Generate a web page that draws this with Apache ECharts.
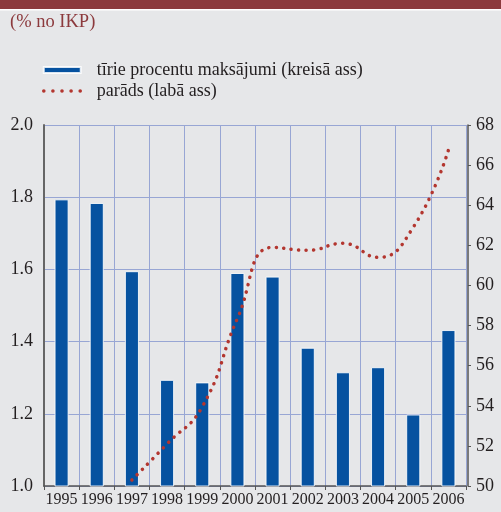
<!DOCTYPE html>
<html>
<head>
<meta charset="utf-8">
<script src="https://cdn.jsdelivr.net/npm/echarts@6/dist/echarts.min.js"></script>
<style>
  html, body { margin: 0; padding: 0; background: #e6e7e9; }
  #chart { width: 501px; height: 512px; }
</style>
</head>
<body>
<div id="chart"></div>
<script>
// gadi
const years = ["1995", "1996", "1997", "1998", "1999", "2000", "2001", "2002", "2003", "2004", "2005", "2006"];
// tīrie procentu maksājumi (% no IKP), kreisā ass
const interestPayments = [1.794, 1.784, 1.595, 1.294, 1.287, 1.59, 1.58, 1.383, 1.315, 1.329, 1.198, 1.432];
// parāds (% no IKP), labā ass
const debt = [null, null, 50.3, 52.1, 53.95, 58.35, 61.9, 61.75, 62.1, 61.4, 62.9, 66.75];

const serif = "Liberation Serif";
const textColor = "#231f20";
const gridColor = "#98a6d4";
const dotLine = { color: "#b3362f", width: 3.5, type: [0.1, 7.4], cap: "round" };

const chart = echarts.init(document.getElementById("chart"));

const option = {
  backgroundColor: "#e6e7e9",
  animation: false,
  textStyle: { fontFamily: serif },
  graphic: [
    // sarkanā josla augšā
    { type: "rect", left: 0, top: 0, shape: { width: 501, height: 9 }, style: { fill: "#8c3a3d" } },
    { type: "rect", left: 0, top: 9, shape: { width: 501, height: 1.5 }, style: { fill: "#ffffff" } },
  ],
  title: {
    text: "(% no IKP)",
    left: 10,
    top: 13,
    padding: 0,
    textStyle: { fontFamily: serif, fontSize: 18.5, fontWeight: "normal", color: "#8c3a3d" },
  },
  legend: {
    orient: "vertical",
    left: 42,
    top: 61,
    padding: 0,
    itemWidth: 37,
    itemHeight: 6,
    itemGap: 3,
    textStyle: { fontFamily: serif, fontSize: 18, color: textColor, padding: [0, 0, 0, 11] },
    data: [
      { name: "tīrie procentu maksājumi (kreisā ass)", icon: "rect" },
      {
        name: "parāds (labā ass)",
        itemStyle: { opacity: 0 },
        lineStyle: { color: "#b3362f", width: 3.5, type: [0.1, 9], cap: "round" },
      },
    ],
  },
  grid: { left: 44, right: 35, top: 125, bottom: 26 },
  xAxis: {
    type: "category",
    data: years,
    axisLine: { lineStyle: { color: "#555", width: 1.5 } },
    axisTick: { show: true, interval: 0, length: 4, lineStyle: { color: "#555" } },
    axisLabel: { interval: 0, fontFamily: serif, fontSize: 16, color: textColor, margin: 6 },
    splitLine: { show: true, interval: 0, lineStyle: { color: gridColor, width: 1 } },
  },
  yAxis: [
    {
      type: "value",
      min: 1.0,
      max: 2.0,
      interval: 0.2,
      axisLine: { show: true, lineStyle: { color: "#666", width: 2 } },
      axisTick: { show: false },
      axisLabel: {
        fontFamily: serif, fontSize: 18, color: textColor, margin: 11,
        formatter: (v) => v.toFixed(1),
      },
      splitLine: { show: true, lineStyle: { color: gridColor, width: 1 } },
    },
    {
      type: "value",
      min: 50,
      max: 68,
      interval: 2,
      offset: 2,
      axisLine: { show: true, lineStyle: { color: "#555", width: 1.5 } },
      axisTick: { show: true, length: 3, lineStyle: { color: "#555" } },
      axisLabel: { fontFamily: serif, fontSize: 18, color: textColor, margin: 8 },
      splitLine: { show: false },
    },
  ],
  series: [
    {
      name: "tīrie procentu maksājumi (kreisā ass)",
      type: "bar",
      data: interestPayments,
      barWidth: "40%",
      itemStyle: { color: "#0652a0", borderColor: "rgba(255,255,255,0.85)", borderWidth: 1 },
    },
    {
      name: "parāds (labā ass)",
      type: "line",
      yAxisIndex: 1,
      data: debt,
      smooth: 0.5,
      symbol: "none",
      itemStyle: { color: "#b3362f" },
      lineStyle: dotLine,
      z: 5,
    },
  ],
};

chart.setOption(option);
</script>
</body>
</html>
